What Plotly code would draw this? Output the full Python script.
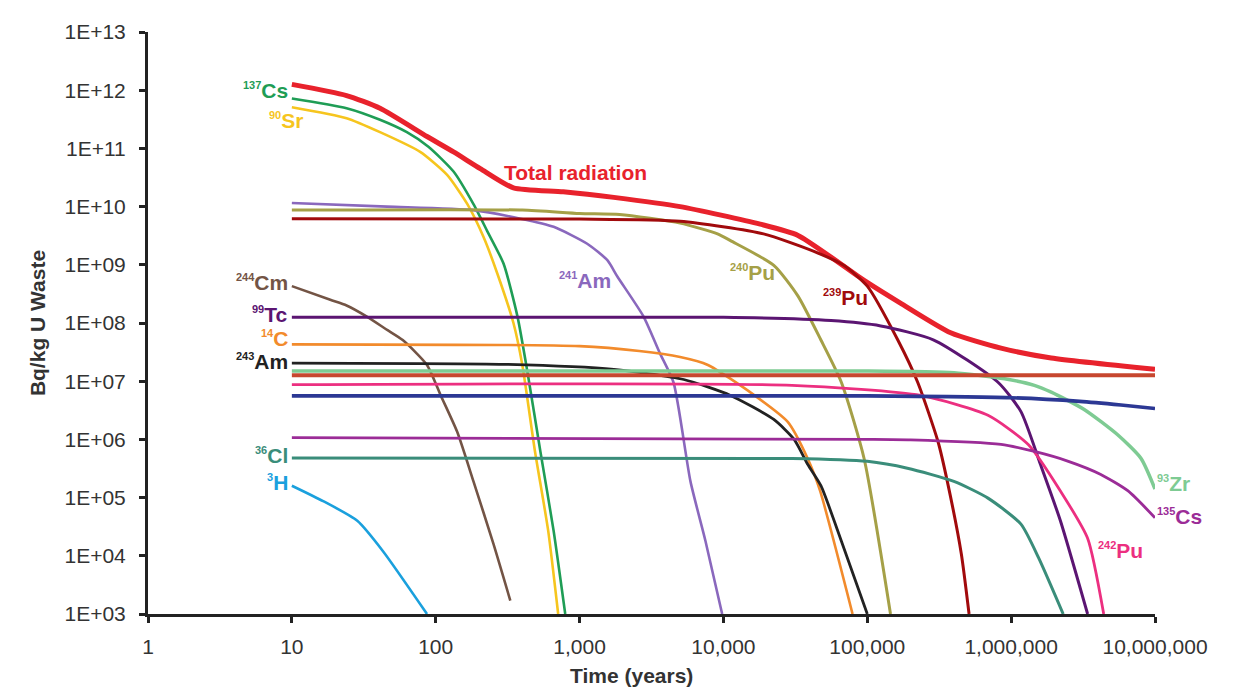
import math
import plotly.graph_objects as go

# ---------------- data (time in years, activity in Bq/kg U waste) ----------------
t_total = [10, 24, 41, 87, 133, 204, 347, 770, 1730, 5000, 18000, 33000, 95000, 170000, 380000, 850000, 1.9e6, 1e7]
a_total = [1.26e12, 8.1e11, 4.9e11, 1.6e11, 8.7e10, 4.5e10, 2.1e10, 1.8e10, 1.44e10, 1.0e10, 5.0e9, 3.2e9, 5.4e8, 2.2e8, 6.8e7, 3.7e7, 2.5e7, 1.6e7]

t_cs137 = [10, 24, 41, 63, 89, 133, 183, 228, 296, 370, 435, 534, 660, 795]
a_cs137 = [7.2e11, 4.9e11, 3.1e11, 1.9e11, 1.07e11, 4.0e10, 1.1e10, 3.8e9, 1.05e9, 1.3e8, 1.4e7, 6.2e5, 2.7e4, 1e3]

t_sr90 = [10, 24, 41, 78, 120, 166, 215, 268, 347, 400, 490, 605, 710]
a_sr90 = [5.1e11, 3.3e11, 1.9e11, 8.7e10, 3.5e10, 1.1e10, 3.0e9, 7.1e8, 1.0e8, 1.9e7, 6.2e5, 2.7e4, 1e3]

t_am241 = [10, 46, 183, 388, 660, 1130, 1560, 1830, 2780, 3600, 4500, 5900, 7500, 9800]
a_am241 = [1.15e10, 1.0e10, 8.7e9, 6.2e9, 4.5e9, 2.3e9, 1.2e9, 6.3e8, 1.3e8, 3.1e7, 9.5e6, 1.9e5, 1.8e4, 1e3]

t_pu240 = [10, 400, 1000, 1900, 5000, 9100, 11200, 22400, 33000, 47600, 66000, 95000, 145000]
a_pu240 = [8.7e9, 8.7e9, 7.6e9, 7.3e9, 5.2e9, 3.4e9, 2.6e9, 9.8e8, 2.9e8, 5.1e7, 9.6e6, 4.7e5, 1e3]

t_pu239 = [10, 1000, 5000, 19000, 42600, 69000, 100000, 163000, 224000, 310000, 360000, 450000, 510000]
a_pu239 = [6.2e9, 6.1e9, 5.6e9, 3.4e9, 1.7e9, 9.7e8, 4.3e8, 5.1e7, 9.6e6, 9.2e5, 1.9e5, 1.1e4, 1e3]

t_cm244 = [10, 18.5, 24, 33, 46, 59, 87, 108, 141, 183, 252, 330]
a_cm244 = [4.3e8, 2.5e8, 2.0e8, 1.3e8, 7.6e7, 5.1e7, 1.9e7, 5.8e6, 1.35e6, 1.9e5, 1.6e4, 1.7e3]

t_tc99 = [10, 10000, 56000, 124000, 290000, 810000, 1.17e6, 1.6e6, 2.2e6, 3.4e6]
a_tc99 = [1.26e8, 1.25e8, 1.1e8, 8.9e7, 5.1e7, 9.6e6, 3.0e6, 3.7e5, 4.0e4, 1e3]

t_c14 = [10, 1000, 2600, 5000, 7800, 16000, 28000, 38500, 47000, 79000]
a_c14 = [4.3e7, 4.0e7, 3.3e7, 2.6e7, 1.9e7, 6.0e6, 2.0e6, 4.7e5, 1.3e5, 1e3]

t_am243 = [10, 300, 1730, 5300, 11200, 22400, 31000, 38600, 47600, 66000, 100000]
a_am243 = [2.05e7, 1.95e7, 1.6e7, 1.07e7, 5.7e6, 2.2e6, 1.0e6, 3.7e5, 1.6e5, 1.8e4, 1e3]

t_zr93 = [10, 100000, 400000, 900000, 1.45e6, 1.9e6, 3.2e6, 5.5e6, 8e6, 1e7]
a_zr93 = [1.5e7, 1.5e7, 1.4e7, 1.1e7, 8.5e6, 6.5e6, 3.3e6, 1.2e6, 4.7e5, 1.4e5]

t_u238 = [10, 1e7]
a_u238 = [1.26e7, 1.26e7]

t_pu242 = [10, 30000, 235000, 690000, 1.32e6, 2.2e6, 3.4e6, 4.4e6]
a_pu242 = [8.7e6, 8.5e6, 5.7e6, 2.6e6, 8.1e5, 1.3e5, 2.0e4, 1e3]

t_i129 = [10, 100000, 1e6, 3e6, 5.8e6, 1e7]
a_i129 = [5.6e6, 5.6e6, 5.2e6, 4.5e6, 3.9e6, 3.4e6]

t_cs135 = [10, 100000, 200000, 850000, 1.45e6, 2.5e6, 4.2e6, 6.5e6, 1e7]
a_cs135 = [1.07e6, 1.0e6, 9.8e5, 8.2e5, 6.2e5, 4.2e5, 2.5e5, 1.3e5, 4.5e4]

t_cl36 = [10, 30000, 100000, 190000, 400000, 690000, 1.17e6, 1.55e6, 2.3e6]
a_cl36 = [4.8e5, 4.7e5, 4.2e5, 3.2e5, 1.9e5, 9.8e4, 3.5e4, 9.3e3, 1e3]

t_h3 = [10, 16.5, 28.5, 43, 87]
a_h3 = [1.6e5, 8.7e4, 4.0e4, 1.2e4, 1e3]

x_ticks = [1, 10, 100, 1000, 10000, 100000, 1000000, 10000000]
x_ticklabels = ["1", "10", "100", "1,000", "10,000", "100,000", "1,000,000", "10,000,000"]
y_ticks = [1e3, 1e4, 1e5, 1e6, 1e7, 1e8, 1e9, 1e10, 1e11, 1e12, 1e13]
y_ticklabels = ["1E+03", "1E+04", "1E+05", "1E+06", "1E+07", "1E+08", "1E+09",
                "1E+10", "1E+11", "1E+12", "1E+13"]

# ---------------- series styling ----------------
series = [
    # name, t, a, color, width
    ("Total radiation", t_total, a_total, "#e8222c", 5),
    ("137Cs", t_cs137, a_cs137, "#1f9d55", 2.6),
    ("90Sr", t_sr90, a_sr90, "#f6c51e", 2.6),
    ("241Am", t_am241, a_am241, "#8a68bd", 2.6),
    ("240Pu", t_pu240, a_pu240, "#a5a047", 3),
    ("239Pu", t_pu239, a_pu239, "#a10a0c", 3),
    ("244Cm", t_cm244, a_cm244, "#735445", 2.6),
    ("99Tc", t_tc99, a_tc99, "#5b1572", 3),
    ("14C", t_c14, a_c14, "#f28b2c", 2.6),
    ("243Am", t_am243, a_am243, "#222222", 2.8),
    ("93Zr", t_zr93, a_zr93, "#7ecb93", 3.5),
    ("238U", t_u238, a_u238, "#c7472f", 4),
    ("242Pu", t_pu242, a_pu242, "#ec2f80", 2.8),
    ("129I", t_i129, a_i129, "#2c3894", 3.6),
    ("135Cs", t_cs135, a_cs135, "#9b2c97", 2.8),
    ("36Cl", t_cl36, a_cl36, "#3a8d7a", 3),
    ("3H", t_h3, a_h3, "#1aa0dd", 2.6),
]

fig = go.Figure()
for name, t, a, color, w in series:
    fig.add_trace(go.Scatter(
        x=t, y=a, mode="lines", name=name,
        line=dict(color=color, width=w, shape="spline", smoothing=0.6),
        showlegend=False, hoverinfo="x+y+name",
    ))

# ---------------- labels ----------------
def iso(mass, sym):
    return ('<b><sup><span style="font-size:11px">%s</span></sup>%s</b>' % (mass, sym))

# (text, log10 x, log10 y, xanchor, color)
labels = [
    (iso("137", "Cs"), 0.988, 11.95, "right", "#1f9d55"),
    (iso("90", "Sr"), 1.093, 11.42, "right", "#f6c51e"),
    (iso("244", "Cm"), 0.988, 8.65, "right", "#735445"),
    (iso("99", "Tc"), 0.988, 8.10, "right", "#5b1572"),
    (iso("14", "C"), 0.988, 7.68, "right", "#f28b2c"),
    (iso("243", "Am"), 0.988, 7.29, "right", "#222222"),
    (iso("36", "Cl"), 0.988, 5.67, "right", "#3a8d7a"),
    (iso("3", "H"), 0.988, 5.21, "right", "#1aa0dd"),
    ("<b>Total radiation</b>", 2.463, 10.585, "left", "#e8222c"),
    (iso("241", "Am"), 2.84, 8.68, "left", "#8a68bd"),
    (iso("240", "Pu"), 4.03, 8.82, "left", "#a5a047"),
    (iso("239", "Pu"), 4.68, 8.39, "left", "#a10a0c"),
    (iso("238", "U"), 7.035, 6.98, "left", "#c7472f"),
    (iso("129", "I"), 7.035, 6.50, "left", "#2c3894"),
    (iso("93", "Zr"), 7.0, 5.19, "left", "#7ecb93"),
    (iso("135", "Cs"), 7.0, 4.63, "left", "#9b2c97"),
    (iso("242", "Pu"), 6.59, 4.04, "left", "#ec2f80"),
]
for text, lx, ly, anchor, color in labels:
    shift = 0 if text.startswith("<b>Total") else 3
    fig.add_annotation(x=lx, y=ly, xref="x", yref="y", text=text, showarrow=False,
                       xanchor=anchor, yanchor="middle", yshift=shift,
                       font=dict(family="Liberation Sans, Arial, sans-serif", size=21, color=color))

# x-axis title
fig.add_annotation(x=0.4806, y=-0.106, xref="paper", yref="paper", text="<b>Time (years)</b>",
                   showarrow=False, xanchor="center", yanchor="middle",
                   font=dict(family="Liberation Sans, Arial, sans-serif", size=21, color="#333333"))

axis_font = dict(family="Liberation Sans, Arial, sans-serif", size=20, color="#333333")
fig.update_layout(
    width=1243, height=681,
    margin=dict(l=140, r=96, t=18, b=75),
    paper_bgcolor="white", plot_bgcolor="white",
    font=axis_font,
    xaxis=dict(
        type="log", range=[0, 7],
        tickvals=x_ticks, ticktext=x_ticklabels,
        showgrid=False, zeroline=False,
        showline=True, linecolor="#222222", linewidth=3,
        ticks="outside", ticklen=6, tickwidth=3, tickcolor="#222222",
        ticklabelstandoff=6,
        tickfont=dict(size=21, color="#333333"),
    ),
    yaxis=dict(
        type="log", range=[3, 13],
        tickvals=y_ticks, ticktext=y_ticklabels,
        showgrid=False, zeroline=False,
        showline=True, linecolor="#222222", linewidth=3,
        ticks="outside", ticklen=6, tickwidth=3, tickcolor="#222222",
        ticklabelstandoff=9,
        tickfont=dict(size=21, color="#333333"),
        title=dict(text="<b>Bq/kg U Waste</b>", font=dict(size=21, color="#333333"), standoff=14),
    ),
)

fig.write_html("out.html")
